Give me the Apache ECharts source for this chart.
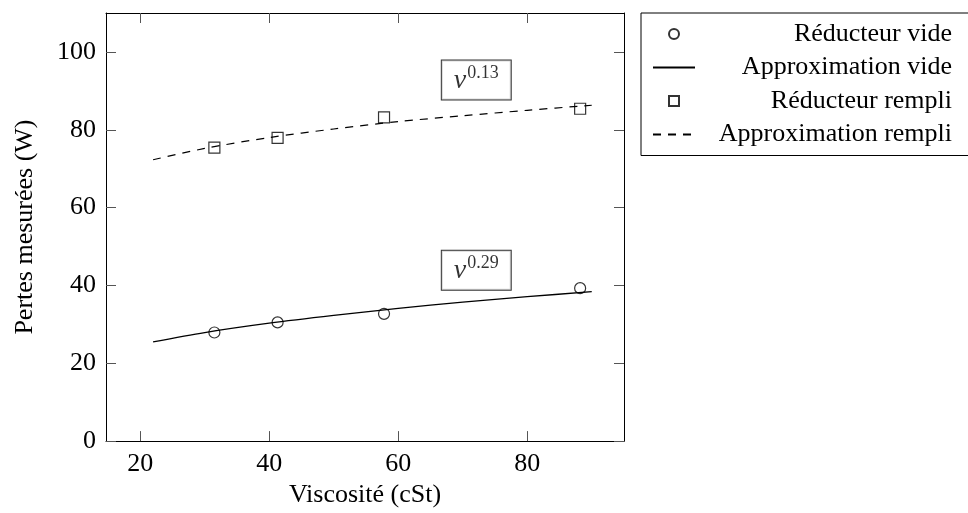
<!DOCTYPE html>
<html>
<head>
<meta charset="utf-8">
<script src="https://cdn.jsdelivr.net/npm/echarts@6/dist/echarts.min.js"></script>
<style>html,body{margin:0;padding:0;background:#fff;}#c{width:968px;height:513px;}</style>
</head>
<body>
<div id="c"></div>
<script>
// ---- data ----
const viscosite = [31.5, 41.3, 57.8, 88.2];
const pertesVide = [27.9, 30.5, 32.7, 39.3];
const pertesRempli = [75.4, 77.9, 83.2, 85.4];
const approxX = [22, 30, 40, 50, 60, 70, 80, 90];
const approxVide = [25.5, 27.9, 30.3, 32.3, 34.1, 35.7, 37.1, 38.4];
const approxRempli = [72.3, 75.2, 78.0, 80.2, 82.1, 83.6, 85.0, 86.3];
const xTickValues = [20, 40, 60, 80];
const yTickValues = [0, 20, 40, 60, 80, 100];
const annotX = [72.1, 72.1];
const annotY = [92.8, 43.9];
const annotExp = ['0.13', '0.29'];
const seriesNames = ['Réducteur vide', 'Approximation vide', 'Réducteur rempli', 'Approximation rempli'];

const FONT = 'Liberation Serif';
const FS = 26;
const zip = (xs, ys) => xs.map((x, i) => [x, ys[i]]);

const chart = echarts.init(document.getElementById('c'), null, {renderer: 'canvas'});

const axisCommon = {
  type: 'value',
  splitLine: {show: false},
  axisLine: {show: true, onZero: false, lineStyle: {color: '#000', width: 1}},
  axisTick: {show: true, inside: true, length: 10, lineStyle: {color: '#555', width: 1}},
};

const hiddenSymbol = {color: 'rgba(0,0,0,0)', borderWidth: 0, opacity: 0};

const option = {
  animation: false,
  backgroundColor: '#fff',
  textStyle: {fontFamily: FONT},
  grid: {left: 106, right: 344, top: 13, bottom: 69, containLabel: false},
  xAxis: [
    Object.assign({}, axisCommon, {
      min: 14.7, max: 95, position: 'bottom',
      name: 'Viscosité (cSt)', nameLocation: 'middle', nameGap: 38,
      nameTextStyle: {fontFamily: FONT, fontSize: FS, color: '#000'},
      axisTick: Object.assign({}, axisCommon.axisTick, {customValues: xTickValues}),
      axisLabel: {customValues: xTickValues, fontFamily: FONT, fontSize: FS, color: '#000', margin: 10}
    }),
    Object.assign({}, axisCommon, {
      min: 14.7, max: 95, position: 'top',
      axisTick: Object.assign({}, axisCommon.axisTick, {customValues: xTickValues}),
      axisLabel: {show: false}
    })
  ],
  yAxis: [
    Object.assign({}, axisCommon, {
      min: 0, max: 110, position: 'left',
      name: 'Pertes mesurées (W)', nameLocation: 'middle', nameGap: 68, nameRotate: 90,
      nameTextStyle: {fontFamily: FONT, fontSize: FS, color: '#000'},
      axisTick: Object.assign({}, axisCommon.axisTick, {customValues: yTickValues}),
      axisLabel: {customValues: yTickValues, fontFamily: FONT, fontSize: FS, color: '#000', margin: 10}
    }),
    Object.assign({}, axisCommon, {
      min: 0, max: 110, position: 'right',
      axisTick: Object.assign({}, axisCommon.axisTick, {customValues: yTickValues}),
      axisLabel: {show: false}
    })
  ],
  legend: {
    data: [
      {name: seriesNames[0]},
      {name: seriesNames[1], itemStyle: hiddenSymbol},
      {name: seriesNames[2], icon: 'path://M0,0L10,0L10,10L0,10Z'},
      {name: seriesNames[3], itemStyle: hiddenSymbol}
    ],
    orient: 'vertical',
    left: 641, top: 13,
    padding: [8, 18, 8, 11],
    itemGap: 7.5,
    itemWidth: 42,
    itemHeight: 10,
    symbolKeepAspect: true,
    borderColor: '#000',
    borderWidth: 1,
    borderRadius: 0,
    backgroundColor: '#fff',
    selectedMode: false,
    formatter: name => '{a|' + name + '}',
    textStyle: {
      rich: {a: {width: 252, align: 'right', fontFamily: FONT, fontSize: FS, lineHeight: 27, color: '#000'}}
    }
  },
  series: [
    {
      name: seriesNames[0], type: 'scatter', data: zip(viscosite, pertesVide),
      symbol: 'circle', symbolSize: 11,
      itemStyle: {color: 'rgba(255,255,255,0)', borderColor: '#000', borderWidth: 1.2},
      z: 5
    },
    {
      name: seriesNames[1], type: 'line', data: zip(approxX, approxVide),
      smooth: 0.3, showSymbol: false, symbol: 'none',
      lineStyle: {color: '#000', width: 1.3, type: 'solid'},
      itemStyle: {color: '#000'}
    },
    {
      name: seriesNames[2], type: 'scatter', data: zip(viscosite, pertesRempli),
      symbol: 'rect', symbolSize: 11,
      itemStyle: {color: 'rgba(255,255,255,0)', borderColor: '#000', borderWidth: 1.2},
      z: 5
    },
    {
      name: seriesNames[3], type: 'line', data: zip(approxX, approxRempli),
      smooth: 0.3, showSymbol: false, symbol: 'none',
      lineStyle: {color: '#000', width: 1.2, type: [8, 7]},
      itemStyle: {color: '#000'}
    },
    {
      name: 'annotations', type: 'scatter', silent: true,
      data: annotX.map((x, i) => [x, annotY[i]]),
      symbolSize: 1, itemStyle: {color: 'rgba(0,0,0,0)'},
      z: 10,
      label: {
        show: true, position: 'inside',
        formatter: p => '{nu|ν}{sup|' + annotExp[p.dataIndex] + '}',
        backgroundColor: '#fff', borderColor: '#000', borderWidth: 1,
        padding: [4, 12, 5, 12],
        rich: {
          nu: {fontFamily: FONT, fontStyle: 'italic', fontSize: 28, lineHeight: 30, verticalAlign: 'bottom', color: '#000'},
          sup: {fontFamily: FONT, fontSize: 18, lineHeight: 18, verticalAlign: 'top', color: '#000', padding: [0, 0, 0, 1]}
        }
      }
    }
  ]
};
chart.setOption(option);
</script>
</body>
</html>
